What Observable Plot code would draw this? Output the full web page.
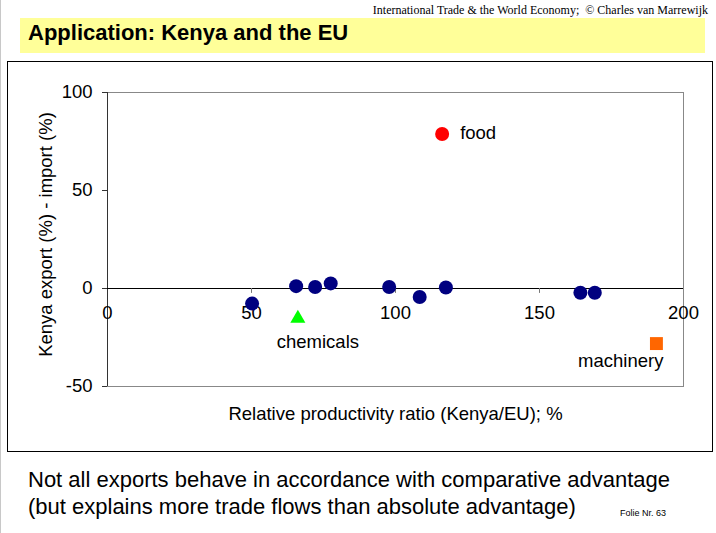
<!DOCTYPE html>
<html><head><meta charset="utf-8">
<script src="https://cdn.jsdelivr.net/npm/d3@7"></script>
<script src="https://cdn.jsdelivr.net/npm/@observablehq/plot@0.6"></script>
<style>
html,body{margin:0;padding:0;background:#fff;}
body{width:716px;height:533px;position:relative;overflow:hidden;font-family:"Liberation Sans",Arial,sans-serif;}
#edge{position:absolute;left:0;top:0;width:1px;height:533px;background:#c8c8c8;}
#hdr{position:absolute;right:8px;top:3px;font-family:"Liberation Serif","Times New Roman",serif;font-size:12px;color:#000;white-space:nowrap;}
#band{position:absolute;left:20px;top:18px;width:685px;height:35px;background:#ffff99;}
#title{position:absolute;left:28px;top:20px;font-size:22px;font-weight:bold;color:#000;white-space:nowrap;}
#chart{position:absolute;left:7px;top:61px;width:704px;height:389px;border:1px solid #000;}
#chart svg{display:block;}
#f1{position:absolute;left:28px;top:467px;font-size:22px;white-space:nowrap;}
#f2{position:absolute;left:28px;top:494px;font-size:22px;white-space:nowrap;}
#folie{position:absolute;left:620px;top:508px;font-size:9px;white-space:nowrap;}
</style></head>
<body>
<div id="edge"></div>
<div id="hdr">International Trade &amp; the World Economy;&nbsp; © Charles van Marrewijk</div>
<div id="band"></div>
<div id="title">Application: Kenya and the EU</div>
<div id="chart"></div>
<div id="f1">Not all exports behave in accordance with comparative advantage</div>
<div id="f2">(but explains more trade flows than absolute advantage)</div>
<div id="folie">Folie Nr. 63</div>
<script>
// other sectors (navy dots)
const otherRatio = [50.2, 65.5, 72.1, 77.5, 97.8, 108.4, 117.5, 164.2, 169.2];
const otherNet   = [-7.7, 1.2, 0.8, 2.6, 0.8, -4.3, 0.5, -2.2, -2.2];
// highlighted sectors
const hlNames = ["food", "chemicals", "machinery"];
const hlRatio = [116.2, 66.1, 190.6];
const hlNet   = [78.8, -15.3, -28.1];
const xTicks = [0, 50, 100, 150, 200];
const yTicks = [-50, 0, 50, 100];
const xLabel = "Relative productivity ratio (Kenya/EU); %";
const yLabel = "Kenya export (%) - import (%)";

const others = otherRatio.map((x, i) => ({x, y: otherNet[i]}));
const hl = hlNames.map((name, i) => ({name, x: hlRatio[i], y: hlNet[i]}));
const pick = n => hl.filter(d => d.name === n);

const font = "Liberation Sans, Arial, sans-serif";
const fs = 18.5;
const chart = Plot.plot({
  width: 704, height: 389,
  marginLeft: 99, marginRight: 29, marginTop: 30, marginBottom: 65,
  style: {fontFamily: font, fontSize: fs + "px", color: "#000", background: "#fff", overflow: "visible"},
  x: {domain: [0, 200]},
  y: {domain: [-50, 100]},
  marks: [
    Plot.frame({stroke: "#888"}),
    Plot.ruleX([0], {stroke: "#333"}),
    Plot.ruleY([0], {stroke: "#000", strokeWidth: 1.2}),
    Plot.ruleX(xTicks.slice(1, 4), {x: d => d, y1: 0, y2: -2.5, stroke: "#777"}),
    Plot.axisY({ticks: yTicks, tickFormat: d => String(d), tickSize: 5, tickPadding: 10, fontSize: fs, stroke: "#333", label: null}),
    Plot.axisX({ticks: [], label: null}),
    Plot.text(xTicks, {x: d => d, y: 0, text: d => String(d), dy: 25, fontSize: fs}),
    Plot.text([xLabel], {frameAnchor: "bottom", dy: 33, fontSize: fs}),
    Plot.text([yLabel], {frameAnchor: "left", textAnchor: "middle", rotate: -90, dx: -61, dy: -5, fontSize: fs}),
    Plot.dot(others, {x: "x", y: "y", r: 7, fill: "#000080"}),
    Plot.dot(pick("food"), {x: "x", y: "y", r: 7, fill: "#ff0000"}),
    Plot.dot(pick("chemicals"), {x: "x", y: "y", symbol: "triangle", r: 5.6, fill: "#00ff00"}),
    Plot.dot(pick("machinery"), {x: "x", y: "y", symbol: "square", r: 7.3, fill: "#ff6600"}),
    Plot.text(pick("food"), {x: "x", y: "y", text: "name", dx: 18, dy: -1, textAnchor: "start", fontSize: fs}),
    Plot.text(pick("chemicals"), {x: "x", y: "y", text: "name", dx: 20, dy: 24, textAnchor: "middle", fontSize: fs}),
    Plot.text(pick("machinery"), {x: "x", y: "y", text: "name", dx: 7, dy: 18, textAnchor: "end", fontSize: fs})
  ]
});
document.getElementById("chart").appendChild(chart);
</script>
</body></html>
